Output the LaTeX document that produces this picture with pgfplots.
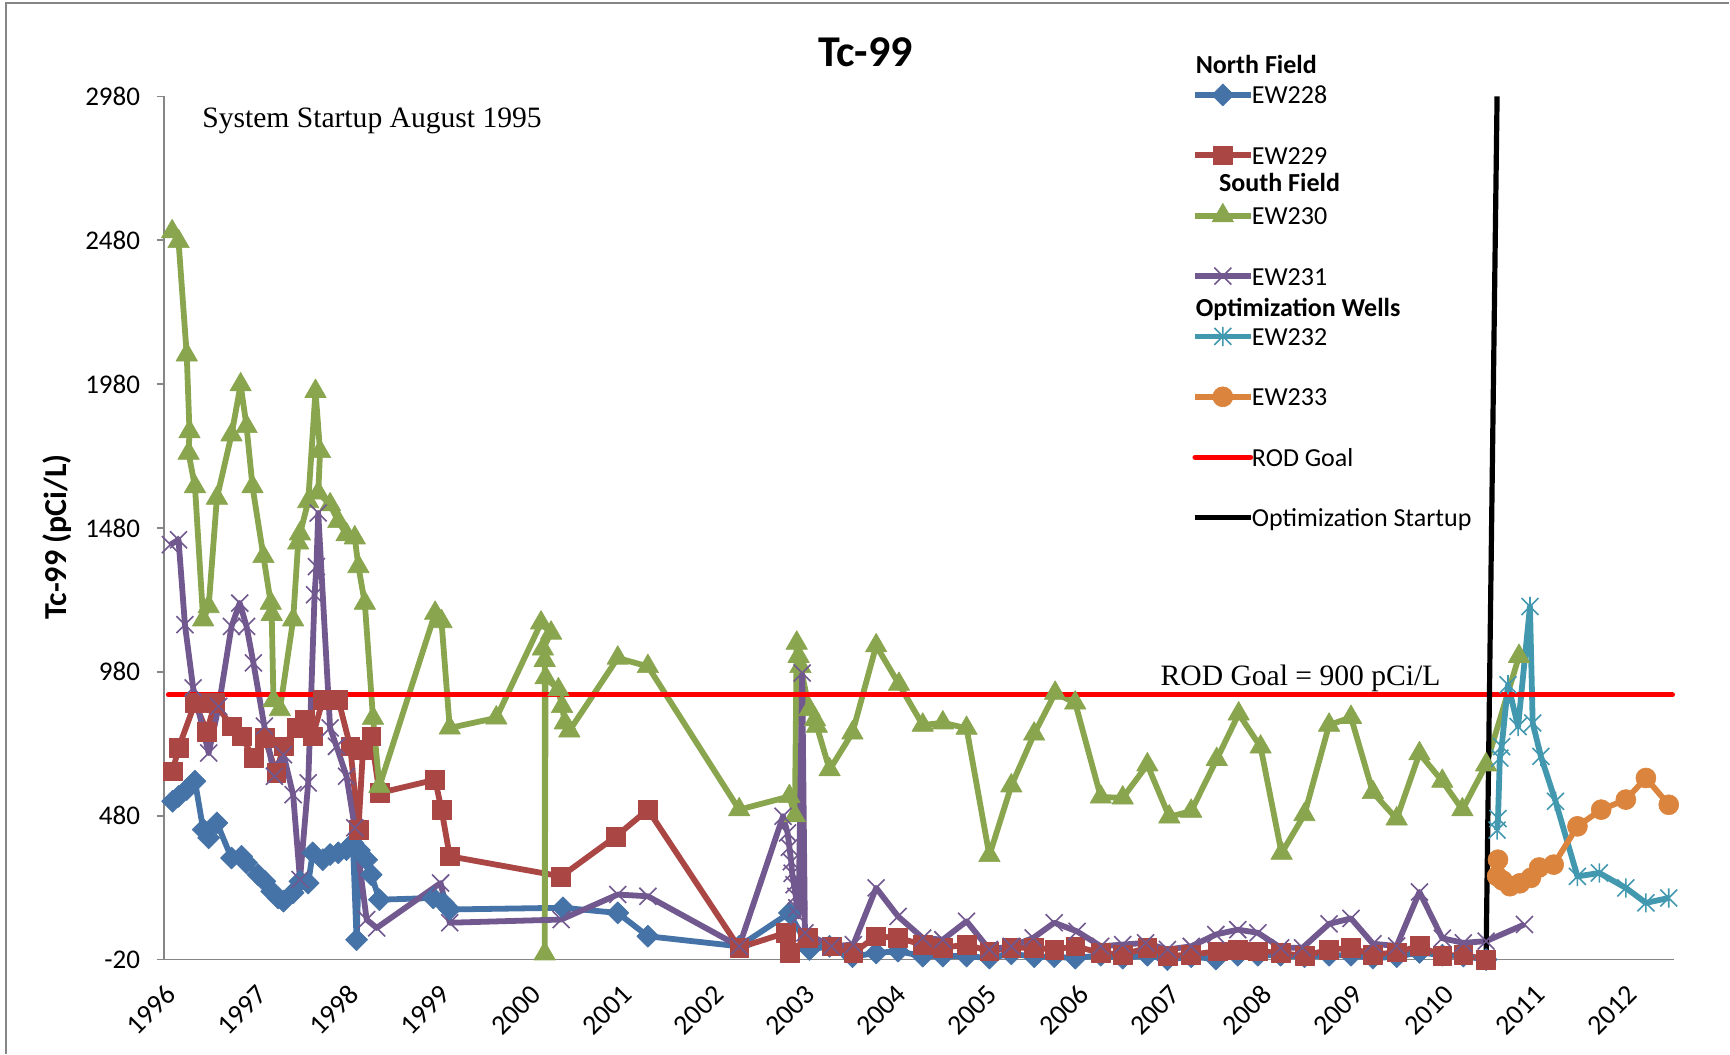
\documentclass[border=0pt]{standalone}
\usepackage{pgfplots}
\pgfplotsset{compat=1.18}
\usepackage{fontspec}
\setmainfont{Carlito}
\newfontfamily\timesfont{Liberation Serif}

\definecolor{ewblue}{HTML}{4572A7}
\definecolor{ewred}{HTML}{AA4643}
\definecolor{ewgreen}{HTML}{89A54E}
\definecolor{ewpurple}{HTML}{71588F}
\definecolor{ewcyan}{HTML}{4198AF}
\definecolor{eworange}{HTML}{DB843D}
\definecolor{framegray}{HTML}{868686}

% star marker: a diagonal cross with a vertical bar
\pgfdeclareplotmark{xstar}{%
  \pgfpathmoveto{\pgfqpoint{-.70710678\pgfplotmarksize}{-.70710678\pgfplotmarksize}}%
  \pgfpathlineto{\pgfqpoint{.70710678\pgfplotmarksize}{.70710678\pgfplotmarksize}}%
  \pgfpathmoveto{\pgfqpoint{-.70710678\pgfplotmarksize}{.70710678\pgfplotmarksize}}%
  \pgfpathlineto{\pgfqpoint{.70710678\pgfplotmarksize}{-.70710678\pgfplotmarksize}}%
  \pgfpathmoveto{\pgfqpoint{0pt}{-.8\pgfplotmarksize}}%
  \pgfpathlineto{\pgfqpoint{0pt}{.8\pgfplotmarksize}}%
  \pgfusepathqstroke
}

\begin{document}
\begin{tikzpicture}
\path (0,0) rectangle (865pt,527pt);
\draw[framegray, line width=0.8pt] (3pt,0) -- (3pt,525.5pt) -- (865pt,525.5pt);
\begin{axis}[
  at={(82pt,47pt)}, anchor=south west,
  scale only axis, width=755.5pt, height=431.75pt,
  xmin=1996, xmax=2012.54, ymin=-20, ymax=2980,
  clip=false,
  axis x line*=bottom, axis y line*=left,
  axis line style={framegray, line width=0.8pt, -},
  xtick={1996,1997,1998,1999,2000,2001,2002,2003,2004,2005,2006,2007,2008,2009,2010,2011,2012},
  xticklabels={1996,1997,1998,1999,2000,2001,2002,2003,2004,2005,2006,2007,2008,2009,2010,2011,2012},
  ytick={-20,480,980,1480,1980,2480,2980},
  yticklabels={\mbox{-20},\mbox{480},\mbox{980},\mbox{1480},\mbox{1980},\mbox{2480},\mbox{2980}},
  tick align=outside,
  major tick length=3.5pt,
  ytick style={framegray, line width=0.8pt},
  xtick style={draw=none},
  yticklabel style={font=\fontsize{13.5}{15}\selectfont, text=black, anchor=east, inner sep=0pt, xshift=-8.3pt},
  xticklabel style={font=\fontsize{14}{16}\selectfont, text=black, inner sep=0pt,
    xshift=3.6pt, yshift=-11.6pt, rotate=45, anchor=east},
  legend cell align=left,
  legend style={at={(0.6808,1.0367)}, anchor=north west, draw=none, fill=none,
    inner sep=0pt, outer sep=0pt, row sep=0pt, column sep=-0.8pt,
    font=\fontsize{13}{15}\selectfont,
    nodes={inner sep=0pt, text height=9pt, text depth=0pt}},
  legend image code/.code={%
    \path[draw=none, fill=none] (0pt,-15.1pt) rectangle (27.8pt,15.1pt);
    \draw[mark repeat=2,mark phase=2] plot coordinates {(0pt,0pt) (13.9pt,0pt) (27.8pt,0pt)};},
  every axis plot/.append style={line join=round},
]

% EW228, North Field
\addplot[ewblue, line width=2.9pt, mark=square*, mark size=3.9pt,
  mark options={rotate=45, line width=0.3pt, fill=ewblue}] table {
x y
1996.095 530
1996.16 547
1996.25 571
1996.34 600
1996.43 432
1996.49 403
1996.58 455
1996.74 333
1996.85 339
1996.905 316
1997.03 275
1997.105 252
1997.18 217
1997.25 194
1997.31 183
1997.415 212
1997.49 252
1997.58 246
1997.63 351
1997.74 327
1997.82 345
1997.91 351
1998.00 362
1998.07 385
1998.11 49
1998.14 360
1998.22 327
1998.27 275
1998.36 188
1998.95 194
1999.06 177
1999.13 154
2000.37 160
2000.97 142
2001.30 61
2002.30 26
2002.85 142
2003.07 15
2003.29 26
2003.54 -10
2003.80 3
2004.04 9
2004.31 -8
2004.53 -8
2004.79 -8
2005.04 -15
2005.28 0
2005.53 -10
2005.75 -10
2005.98 -15
2006.26 -5
2006.50 -15
2006.77 -5
2006.99 -20
2007.25 -10
2007.52 -18
2007.76 -5
2007.98 -5
2008.23 -5
2008.49 -10
2008.76 -5
2009.00 -5
2009.24 -15
2009.50 -10
2009.75 5
2010.00 -5
2010.23 -8
2010.48 -20
};
\addlegendentry{EW228}

% EW229, North Field
\addplot[ewred, line width=2.9pt, mark=square*, mark size=4.7pt,
  mark options={line width=0.3pt, fill=ewred}] table {
x y
1996.095 634
1996.16 715
1996.34 872
1996.47 773
1996.56 872
1996.74 791
1996.85 756
1996.98 681
1997.105 750
1997.23 629
1997.31 721
1997.45 785
1997.54 814
1997.63 756
1997.74 883
1997.91 883
1998.04 721
1998.13 432
1998.18 710
1998.27 756
1998.36 559
1998.97 605
1999.04 501
1999.13 339
2000.35 269
2000.95 408
2001.30 501
2002.30 21
2002.81 73
2002.85 3
2003.05 55
2003.31 26
2003.55 3
2003.80 61
2004.04 55
2004.31 32
2004.53 21
2004.79 32
2005.04 9
2005.28 21
2005.53 21
2005.75 15
2005.98 26
2006.26 3
2006.50 -3
2006.77 21
2006.99 -8
2007.25 -3
2007.54 9
2007.76 15
2007.98 9
2008.23 3
2008.49 -8
2008.76 15
2009.00 20
2009.24 -3
2009.50 5
2009.75 27
2010.00 -8
2010.23 -3
2010.48 -20
};
\addlegendentry{EW229}

% EW230, South Field
\addplot[ewgreen, line width=2.9pt, mark=triangle*, mark size=6.2pt,
  mark options={line width=0.3pt, fill=ewgreen}] table {
x y
1996.09 2510
1996.16 2476
1996.25 2082
1996.28 1815
1996.27 1740
1996.34 1624
1996.43 1161
1996.49 1207
1996.58 1584
1996.74 1804
1996.84 1978
1996.905 1833
1996.97 1624
1997.09 1381
1997.17 1219
1997.18 1180
1997.20 880
1997.27 849
1997.415 1161
1997.47 1428
1997.49 1460
1997.58 1572
1997.66 1955
1997.71 1746
1997.69 1602
1997.82 1561
1997.91 1503
1998.00 1457
1998.09 1446
1998.13 1346
1998.20 1219
1998.29 819
1998.36 582
1998.97 1184
1999.04 1155
1999.13 785
1999.64 820
2000.13 1150
2000.24 1115
2000.15 1060
2000.17 1020
2000.17 0
2000.18 960
2000.32 918
2000.36 860
2000.39 803
2000.44 775
2000.97 1028
2001.30 999
2002.30 501
2002.85 547
2002.91 480
2002.93 1080
2002.95 1034
2002.97 999
2003.07 849
2003.13 814
2003.15 791
2003.29 640
2003.54 768
2003.80 1071
2004.05 937
2004.31 795
2004.53 803
2004.79 784
2005.04 342
2005.28 584
2005.53 764
2005.76 906
2005.98 872
2006.26 545
2006.50 542
2006.77 657
2007.01 476
2007.25 496
2007.53 676
2007.77 834
2008.01 719
2008.24 350
2008.49 484
2008.76 795
2009.00 822
2009.24 561
2009.50 469
2009.75 696
2010.00 600
2010.22 501
2010.48 657
2010.84 1034
};
\addlegendentry{EW230}

% EW231, South Field
\addplot[ewpurple, line width=2.9pt, mark=x, mark size=6pt,
  mark options={line width=0.8pt}] table {
x y
1996.07 1422
1996.16 1439
1996.23 1144
1996.32 924
1996.49 698
1996.60 860
1996.74 1138
1996.83 1219
1996.905 1138
1996.98 1011
1997.10 791
1997.21 617
1997.31 692
1997.415 553
1997.49 258
1997.58 594
1997.65 1248
1997.67 1346
1997.69 1532
1997.82 785
1997.89 721
1998.00 617
1998.09 438
1998.22 119
1998.33 90
1999.03 246
1999.13 108
2000.35 119
2000.97 206
2001.30 200
2002.30 26
2002.78 478
2002.83 420
2002.85 370
2002.87 320
2002.88 280
2002.90 240
2002.92 200
2002.93 160
2002.95 130
2002.99 976
2003.02 73
2003.31 26
2003.55 32
2003.80 229
2004.04 130
2004.31 55
2004.53 49
2004.79 113
2005.04 15
2005.28 26
2005.52 55
2005.75 108
2006.00 78
2006.26 26
2006.50 32
2006.75 38
2006.99 15
2007.25 26
2007.52 67
2007.76 84
2007.98 73
2008.23 21
2008.47 21
2008.76 104
2009.00 123
2009.24 35
2009.50 27
2009.75 215
2010.00 54
2010.23 38
2010.48 44
2010.90 102
};
\addlegendentry{EW231}

% EW232, optimization well
\addplot[ewcyan, line width=2.9pt, mark=xstar, mark size=6pt,
  mark options={line width=0.8pt}] table {
x y
2010.60 430
2010.61 470
2010.63 680
2010.65 720
2010.72 935
2010.83 790
2010.96 1207
2010.99 802
2011.08 686
2011.24 530
2011.48 269
2011.72 281
2012.01 229
2012.23 177
2012.48 194
};
\addlegendentry{EW232}

% EW233, optimization well
\addplot[eworange, line width=2.9pt, mark=*, mark size=5pt,
  mark options={line width=0.3pt, fill=eworange}] table {
x y
2010.61 327
2010.60 270
2010.66 255
2010.74 235
2010.85 245
2010.97 264
2011.06 300
2011.22 310
2011.48 443
2011.74 501
2012.01 536
2012.23 611
2012.48 518
};
\addlegendentry{EW233}

% remedial goal
\addplot[red, line width=2.6pt, line cap=round, no markers] coordinates {(1996.05,900) (2012.52,900)};
\addlegendentry{ROD Goal}

% start of the optimization phase
\addplot[black, line width=2.6pt, no markers] coordinates {(2010.48,0) (2010.60,2980)};
\addlegendentry{Optimization Startup}
\end{axis}

\node[font=\bfseries\fontsize{22}{26}\selectfont] at (433pt,501pt) {Tc-99};
\node[rotate=90, font=\bfseries\fontsize{16}{19}\selectfont] at (28.7pt,258.5pt) {Tc-99 (pCi/L)};
\node[anchor=base west, inner sep=0pt, font=\timesfont\fontsize{14.8}{18}\selectfont] at (101pt,463pt) {System Startup August 1995};
\node[anchor=base west, inner sep=0pt, font=\timesfont\fontsize{14.8}{18}\selectfont] at (580.4pt,184pt) {ROD Goal = 900 pCi/L};
\node[anchor=base west, inner sep=0pt, font=\bfseries\fontsize{13}{15}\selectfont] at (598pt,490.35pt) {North Field};
\node[anchor=base west, inner sep=0pt, font=\bfseries\fontsize{13}{15}\selectfont] at (609.65pt,431.15pt) {South Field};
\node[anchor=base west, inner sep=0pt, font=\bfseries\fontsize{13}{15}\selectfont] at (598pt,368.65pt) {Optimization Wells};
\end{tikzpicture}
\end{document}
